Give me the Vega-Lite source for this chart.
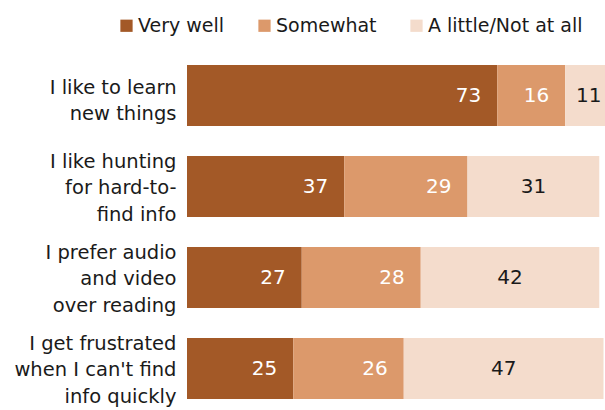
{
  "$schema": "https://vega.github.io/schema/vega-lite/v6.json",
  "width": 425,
  "height": 364,
  "autosize": {"type": "none"},
  "padding": {"left": 187, "top": 50, "right": 0, "bottom": 0},
  "config": {"view": {"stroke": null}, "font": "DejaVu Sans"},
  "data": {
    "values": [
      {"question": "I like to learn|new things", "response": "Very well", "order": 1, "value": 73},
      {"question": "I like to learn|new things", "response": "Somewhat", "order": 2, "value": 16},
      {"question": "I like to learn|new things", "response": "A little/Not at all", "order": 3, "value": 11},
      {"question": "I like hunting|for hard-to-|find info", "response": "Very well", "order": 1, "value": 37},
      {"question": "I like hunting|for hard-to-|find info", "response": "Somewhat", "order": 2, "value": 29},
      {"question": "I like hunting|for hard-to-|find info", "response": "A little/Not at all", "order": 3, "value": 31},
      {"question": "I prefer audio|and video|over reading", "response": "Very well", "order": 1, "value": 27},
      {"question": "I prefer audio|and video|over reading", "response": "Somewhat", "order": 2, "value": 28},
      {"question": "I prefer audio|and video|over reading", "response": "A little/Not at all", "order": 3, "value": 42},
      {"question": "I get frustrated|when I can't find|info quickly", "response": "Very well", "order": 1, "value": 25},
      {"question": "I get frustrated|when I can't find|info quickly", "response": "Somewhat", "order": 2, "value": 26},
      {"question": "I get frustrated|when I can't find|info quickly", "response": "A little/Not at all", "order": 3, "value": 47}
    ]
  },
  "transform": [
    {"stack": "value", "groupby": ["question"], "sort": [{"field": "order", "order": "ascending"}], "as": ["start", "end"]},
    {"calculate": "(datum.start + datum.end) / 2", "as": "mid"}
  ],
  "encoding": {
    "y": {
      "field": "question",
      "type": "nominal",
      "sort": ["I like to learn|new things", "I like hunting|for hard-to-|find info", "I prefer audio|and video|over reading", "I get frustrated|when I can't find|info quickly"],
      "scale": {"paddingInner": 0.33, "paddingOuter": 0.165},
      "axis": {
        "title": null,
        "domain": false,
        "ticks": false,
        "labelPadding": 11,
        "labelFontSize": 19.5,
        "labelLineHeight": 26.5,
        "labelBaseline": "middle",
        "labelOffset": {"condition": {"test": "indexof(datum.value, 'new things') >= 0", "value": -8}, "value": -25},
        "labelColor": "#1a1a1a",
        "labelLimit": 0,
        "labelExpr": "split(datum.label, '|')"
      }
    }
  },
  "layer": [
    {
      "mark": {"type": "bar"},
      "encoding": {
        "x": {"field": "start", "type": "quantitative", "scale": {"domain": [0, 100]}, "axis": null},
        "x2": {"field": "end"},
        "color": {
          "field": "response",
          "type": "nominal",
          "scale": {"domain": ["Very well", "Somewhat", "A little/Not at all"], "range": ["#A35927", "#DC996B", "#F4DCCC"]},
          "legend": {
            "title": null,
            "orient": "none",
            "direction": "horizontal",
            "legendX": -70,
            "legendY": -34,
            "symbolType": "square",
            "symbolSize": 150,
            "symbolStrokeWidth": 0,
            "labelFontSize": 19,
            "labelColor": "#1a1a1a",
            "labelOffset": 2,
            "columnPadding": 30,
            "padding": 0
          }
        }
      }
    },
    {
      "transform": [{"filter": "datum.order < 3"}],
      "mark": {"type": "text", "align": "right", "dx": -16, "fontSize": 20, "color": "white"},
      "encoding": {
        "x": {"field": "end", "type": "quantitative"},
        "text": {"field": "value"}
      }
    },
    {
      "transform": [{"filter": "datum.order == 3"}],
      "mark": {"type": "text", "align": "center", "fontSize": 20, "color": "#1a1a1a"},
      "encoding": {
        "x": {"field": "mid", "type": "quantitative"},
        "text": {"field": "value"}
      }
    }
  ]
}
